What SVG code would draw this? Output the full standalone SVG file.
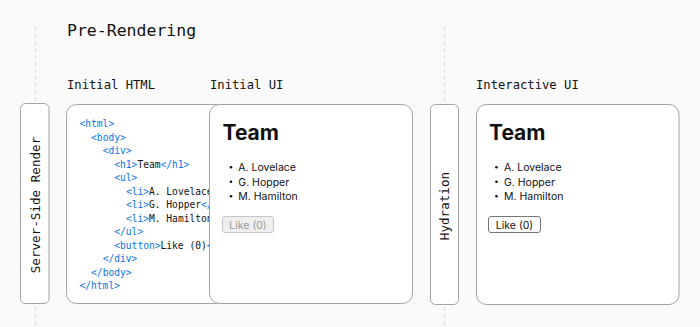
<svg xmlns="http://www.w3.org/2000/svg" width="700" height="327" viewBox="0 0 700 327">
<style>
.bg{fill:#fafafa}
.dash{stroke:#dcdcdc;stroke-width:1;stroke-dasharray:4 3;fill:none}
.box{fill:#ffffff;stroke:#a3a3a3;stroke-width:1}
.mono{font-family:"DejaVu Sans Mono","Liberation Mono",monospace;fill:#111}
.h1{font-size:16.5px}
.h2{font-size:12.2px}
.vert{font-size:12.6px;text-anchor:middle;dominant-baseline:central}
.code{font-family:"DejaVu Sans Mono","Liberation Mono",monospace;font-size:9.6px;fill:#111}
.tag{fill:#0a72e8}
.sans{font-family:Inter,"Liberation Sans",sans-serif;fill:#111}
.team{font-size:21px;font-weight:700}
.li{font-size:10.5px}
.btn-off{fill:#efefef;stroke:#c6c6c6;stroke-width:1}
.btn-on{fill:#ffffff;stroke:#777777;stroke-width:1}
.btxt{font-size:10.5px;text-anchor:middle}
</style>
<defs>
<clipPath id="codeclip"><rect x="66" y="104" width="143" height="200"/></clipPath>
</defs>
<rect class="bg" x="0" y="0" width="700" height="327"/>
<g id="connectors">
<line class="dash" x1="35.5" y1="27" x2="35.5" y2="327"/>
<line class="dash" x1="444.5" y1="27" x2="444.5" y2="327"/>
</g>
<text class="mono h1" x="67" y="36">Pre-Rendering</text>
<text class="mono h2" x="67" y="89">Initial HTML</text>
<text class="mono h2" x="210" y="89">Initial UI</text>
<text class="mono h2" x="476" y="89">Interactive UI</text>
<g id="server-side-render">
<rect class="box" x="20.5" y="103.5" width="28.5" height="200" rx="5"/>
<text class="mono vert" transform="translate(35,205) rotate(-90)">Server-Side Render</text>
</g>
<g id="initial-html">
<rect class="box" x="66.5" y="104.5" width="160" height="199" rx="10"/>
<g class="code" clip-path="url(#codeclip)">
<text x="79.5" y="127"><tspan class="tag">&lt;html&gt;</tspan></text>
<text x="91.1" y="140.5"><tspan class="tag">&lt;body&gt;</tspan></text>
<text x="102.7" y="154"><tspan class="tag">&lt;div&gt;</tspan></text>
<text x="114.3" y="167.5"><tspan class="tag">&lt;h1&gt;</tspan>Team<tspan class="tag">&lt;/h1&gt;</tspan></text>
<text x="114.3" y="181"><tspan class="tag">&lt;ul&gt;</tspan></text>
<text x="125.9" y="194.5"><tspan class="tag">&lt;li&gt;</tspan>A. Lovelace<tspan class="tag">&lt;/li&gt;</tspan></text>
<text x="125.9" y="208"><tspan class="tag">&lt;li&gt;</tspan>G. Hopper<tspan class="tag">&lt;/li&gt;</tspan></text>
<text x="125.9" y="221.5"><tspan class="tag">&lt;li&gt;</tspan>M. Hamilton<tspan class="tag">&lt;/li&gt;</tspan></text>
<text x="114.3" y="235"><tspan class="tag">&lt;/ul&gt;</tspan></text>
<text x="114.3" y="248.5"><tspan class="tag">&lt;button&gt;</tspan>Like (0)<tspan class="tag">&lt;/button&gt;</tspan></text>
<text x="102.7" y="262"><tspan class="tag">&lt;/div&gt;</tspan></text>
<text x="91.1" y="275.5"><tspan class="tag">&lt;/body&gt;</tspan></text>
<text x="79.5" y="289"><tspan class="tag">&lt;/html&gt;</tspan></text>
</g>
</g>
<g id="initial-ui">
<rect class="box" x="209.5" y="104.5" width="203" height="199" rx="10"/>
<text class="sans team" x="222.5" y="139.5">Team</text>
<circle cx="231" cy="167.3" r="1.3" fill="#111"/>
<circle cx="231" cy="181.8" r="1.3" fill="#111"/>
<circle cx="231" cy="196.3" r="1.3" fill="#111"/>
<text class="sans li" x="238.3" y="171">A. Lovelace</text>
<text class="sans li" x="238.3" y="185.5">G. Hopper</text>
<text class="sans li" x="238.3" y="200">M. Hamilton</text>
<rect class="btn-off" x="222.5" y="216.5" width="51" height="16" rx="2.5"/>
<text class="sans btxt" x="248" y="228.5" style="fill:#999">Like (0)</text>
</g>
<g id="hydration">
<rect class="box" x="430.5" y="104.5" width="28" height="200" rx="5"/>
<text class="mono vert" transform="translate(444.5,206) rotate(-90)">Hydration</text>
</g>
<g id="interactive-ui">
<rect class="box" x="476.5" y="104.5" width="202.5" height="200" rx="10"/>
<text class="sans team" x="489" y="139.5">Team</text>
<circle cx="496.5" cy="167.3" r="1.3" fill="#111"/>
<circle cx="496.5" cy="181.8" r="1.3" fill="#111"/>
<circle cx="496.5" cy="196.3" r="1.3" fill="#111"/>
<text class="sans li" x="504" y="171">A. Lovelace</text>
<text class="sans li" x="504" y="185.5">G. Hopper</text>
<text class="sans li" x="504" y="200">M. Hamilton</text>
<rect class="btn-on" x="488.5" y="216.5" width="52" height="16" rx="2.5"/>
<text class="sans btxt" x="514.5" y="228.5">Like (0)</text>
</g>
</svg>
